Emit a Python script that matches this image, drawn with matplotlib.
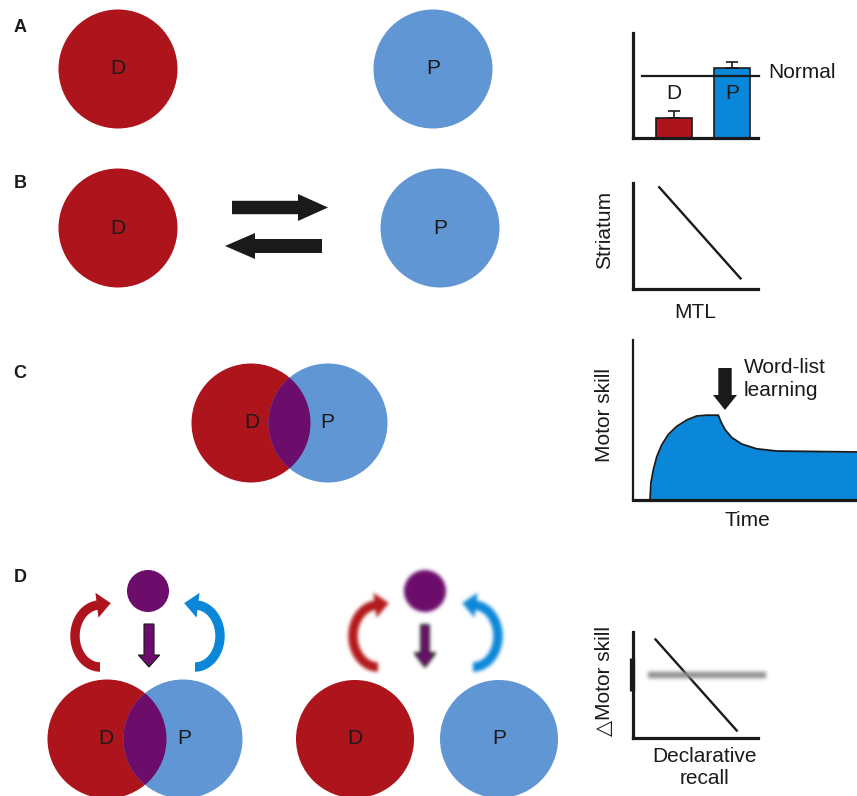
import numpy as np
import matplotlib
matplotlib.use('Agg')
import matplotlib.pyplot as plt
from matplotlib.patches import Circle, Polygon

plt.rcParams['font.family'] = ['Liberation Sans', 'DejaVu Sans']

W, H = 857, 796

RED = '#AD141B'
LIGHT_BLUE = '#6196D4'
BLUE = '#0B87D9'
PURPLE = '#6C0D6C'
INK = '#1a1a1a'
FS = 15

# --- chart values ---
BAR_GROUPS = ['D', 'P']
BAR_VALUES = [0.19, 0.67]
BAR_ERRORS = [0.065, 0.055]
NORMAL_LEVEL = 0.59

MTL = [0.21, 0.86]
STRIATUM = [0.96, 0.10]

TIME = [0.76, 0.80, 0.91, 1.06, 1.28, 1.58, 1.95, 2.40, 2.84, 3.29, 3.81,
        3.92, 4.11, 4.41, 4.85, 5.52, 6.42, 10.0]
MOTOR_SKILL = [0.0, 0.106, 0.19, 0.27, 0.344, 0.41, 0.46, 0.50, 0.525, 0.53, 0.53,
               0.49, 0.44, 0.39, 0.35, 0.32, 0.306, 0.30]

RECALL = [0.18, 0.83]
DELTA_MOTOR = [0.93, 0.07]
FLAT_LEVEL = 0.59


def gaussian_blur(sigma):
    def _filter(im, dpi):
        pad = int(np.ceil(3 * sigma))
        img = np.pad(im, ((pad, pad), (pad, pad), (0, 0)))
        taps = np.arange(-pad, pad + 1)
        k = np.exp(-taps ** 2 / (2 * sigma ** 2))
        k /= k.sum()
        alpha = img[..., 3:4]
        buf = np.concatenate([img[..., :3] * alpha, alpha], axis=2)
        for axis in (0, 1):
            buf = sum(w * np.roll(buf, s, axis=axis) for s, w in zip(taps, k))
        a = buf[..., 3:4]
        rgb = buf[..., :3] / np.maximum(a, 1e-6)
        return np.clip(np.concatenate([rgb, a], axis=2), 0, 1), -pad, -pad
    return _filter


def block_arrow(start, end, shaft_half, head_half, head_len, **kw):
    start, end = np.asarray(start, float), np.asarray(end, float)
    u = (end - start) / np.hypot(*(end - start))
    n = np.array([-u[1], u[0]])
    base = end - u * head_len
    pts = [start + n * shaft_half, base + n * shaft_half, base + n * head_half, end,
           base - n * head_half, base - n * shaft_half, start - n * shaft_half]
    return Polygon(pts, closed=True, **kw)


def curved_arrow(cx, cy, side, color, rx=25, ry=31, half=4.7, t_end=263,
                 head_half=12.5, head_len=14):
    t = np.radians(np.linspace(90, t_end, 80))
    outer = np.c_[cx + side * (rx + half) * np.cos(t), cy + (ry + half) * np.sin(t)]
    inner = np.c_[cx + side * (rx - half) * np.cos(t), cy + (ry - half) * np.sin(t)]
    te = t[-1]
    mid = np.array([cx + side * rx * np.cos(te), cy + ry * np.sin(te)])
    tang = np.array([-side * rx * np.sin(te), ry * np.cos(te)])
    tang /= np.hypot(*tang)
    nrm = outer[-1] - inner[-1]
    nrm /= np.hypot(*nrm)
    head = [mid + nrm * head_half, mid + tang * head_len, mid - nrm * head_half]
    pts = np.vstack([outer, head, inner[::-1]])
    return Polygon(pts, closed=True, facecolor=color, edgecolor='none')


def add_chart(fig, left, top, right, bottom):
    ax = fig.add_axes([left / W, 1 - bottom / H, (right - left) / W, (bottom - top) / H])
    ax.patch.set_alpha(0)
    for side in ('top', 'right'):
        ax.spines[side].set_visible(False)
    for side in ('left', 'bottom'):
        ax.spines[side].set_linewidth(2.3)
        ax.spines[side].set_color(INK)
        ax.spines[side].set_capstyle('projecting')
    ax.set_xticks([])
    ax.set_yticks([])
    return ax


def venn(ax, cx_d, cx_p, cy, r, overlap=True, label_dx=0):
    d = Circle((cx_d, cy), r, color=RED, lw=0)
    p = Circle((cx_p, cy), r, color=LIGHT_BLUE, lw=0)
    ax.add_patch(d)
    ax.add_patch(p)
    if overlap:
        lens = Circle((cx_d, cy), r, color=PURPLE, lw=0)
        ax.add_patch(lens)
        lens.set_clip_path(Circle((cx_p, cy), r, transform=ax.transData))
    ax.text(cx_d + label_dx, cy, 'D', fontsize=FS, ha='center', va='center', color=INK)
    ax.text(cx_p - label_dx, cy, 'P', fontsize=FS, ha='center', va='center', color=INK)


fig = plt.figure(figsize=(W / 100, H / 100), dpi=100)
main = fig.add_axes([0, 0, 1, 1])
main.set_xlim(0, W)
main.set_ylim(H, 0)
main.axis('off')

# panel letters
for letter, y in zip('ABCD', [27, 184, 373, 578]):
    main.text(20, y, letter, fontsize=13, fontweight='bold', ha='center', va='center', color=INK)

# A
venn(main, 118, 433, 69, 59.5, overlap=False)
# B
venn(main, 118, 440, 228, 59.5, overlap=False)
main.add_patch(block_arrow((232, 207.5), (328, 207.5), 6.7, 13.5, 30, color=INK, lw=0))
main.add_patch(block_arrow((322, 246), (225, 246), 7, 13, 30, color=INK, lw=0))
# C
venn(main, 251, 328, 423, 59.5, label_dx=1)
# D left
venn(main, 107, 183, 739, 59.5, label_dx=-1)
main.add_patch(Circle((148, 591), 21, color=PURPLE, lw=0))
main.add_patch(block_arrow((149, 624), (149, 667), 5, 10.7, 12,
                           facecolor=PURPLE, edgecolor=INK, lw=0.8))
main.add_patch(curved_arrow(100, 636, 1, RED))
main.add_patch(curved_arrow(195, 636, -1, BLUE))
# D middle (blurred drivers)
venn(main, 355, 499, 739, 59, overlap=False)
blurred = [
    Circle((425, 591), 21, color=PURPLE, lw=0),
    block_arrow((425, 625), (425, 667), 4, 10.5, 14, facecolor=PURPLE, edgecolor=INK, lw=1.2),
    curved_arrow(378, 636, 1, '#B4181B'),
    curved_arrow(473, 636, -1, BLUE),
]
for art in blurred:
    art.set_agg_filter(gaussian_blur(1.8))
    main.add_patch(art)

# chart A
ax = add_chart(fig, 633, 33, 758, 138)
xpos = np.arange(len(BAR_GROUPS))
ax.bar(xpos, BAR_VALUES, width=0.62, color=[RED, BLUE], edgecolor=INK, lw=1.2)
ax.errorbar(xpos, BAR_VALUES, yerr=[np.zeros(len(xpos)), BAR_ERRORS], fmt='none',
            ecolor=INK, elinewidth=1.2, capsize=4.5, capthick=1.2)
ax.axhline(NORMAL_LEVEL, xmin=0.072, xmax=1.008, color=INK, lw=1.6, clip_on=False)
ax.set_xlim(-0.707, 1.448)
ax.set_ylim(0, 1)
for x, name in zip(xpos, BAR_GROUPS):
    ax.text(x, 0.42, name, fontsize=FS, ha='center', va='center', color=INK, zorder=5)
main.text(768, 73, 'Normal', fontsize=FS, ha='left', va='center', color=INK)

# chart B
ax = add_chart(fig, 633, 183, 758, 289)
ax.plot(MTL, STRIATUM, color=INK, lw=1.7)
ax.set_xlim(0, 1)
ax.set_ylim(0, 1)
main.text(605, 230, 'Striatum', fontsize=FS, rotation=90, ha='center', va='center', color=INK)
main.text(695, 313, 'MTL', fontsize=FS, ha='center', va='center', color=INK)

# chart C
ax = add_chart(fig, 633, 340, 857, 500)
ax.spines['left'].set_linewidth(1.6)
ax.fill_between(TIME, MOTOR_SKILL, 0, color=BLUE, lw=0)
ax.plot(TIME, MOTOR_SKILL, color=INK, lw=1.3, solid_joinstyle='round')
ax.set_xlim(0, 10)
ax.set_ylim(0, 1)
main.add_patch(block_arrow((725, 368), (725, 410), 6.7, 12, 15, color=INK, lw=0))
main.text(744, 379, 'Word-list\nlearning', fontsize=FS, ha='left', va='center',
          linespacing=1.25, color=INK)
main.text(605, 415, 'Motor skill', fontsize=FS, rotation=90, ha='center', va='center', color=INK)
main.text(747, 520, 'Time', fontsize=FS, ha='center', va='center', color=INK)

# chart D
ax = add_chart(fig, 633, 632, 758, 738)
ax.plot(RECALL, DELTA_MOTOR, color=INK, lw=1.7)
grey = ax.axhline(FLAT_LEVEL, xmin=0.12, xmax=1.06, color='#8c8c8c', lw=4.5,
                  solid_capstyle='butt', clip_on=False)
grey.set_agg_filter(gaussian_blur(2.0))
ax.plot([-0.01, -0.01], [0.443, 0.755], color=INK, lw=3.8, clip_on=False,
        solid_capstyle='butt')
ax.set_xlim(0, 1)
ax.set_ylim(0, 1)
main.text(605, 681, '\u25b3Motor skill', fontsize=FS, rotation=90, ha='center', va='center',
          color=INK)
main.text(705, 768, 'Declarative\nrecall', fontsize=FS, ha='center', va='center',
          linespacing=1.2, color=INK)

fig.savefig('out.png', dpi=100)
